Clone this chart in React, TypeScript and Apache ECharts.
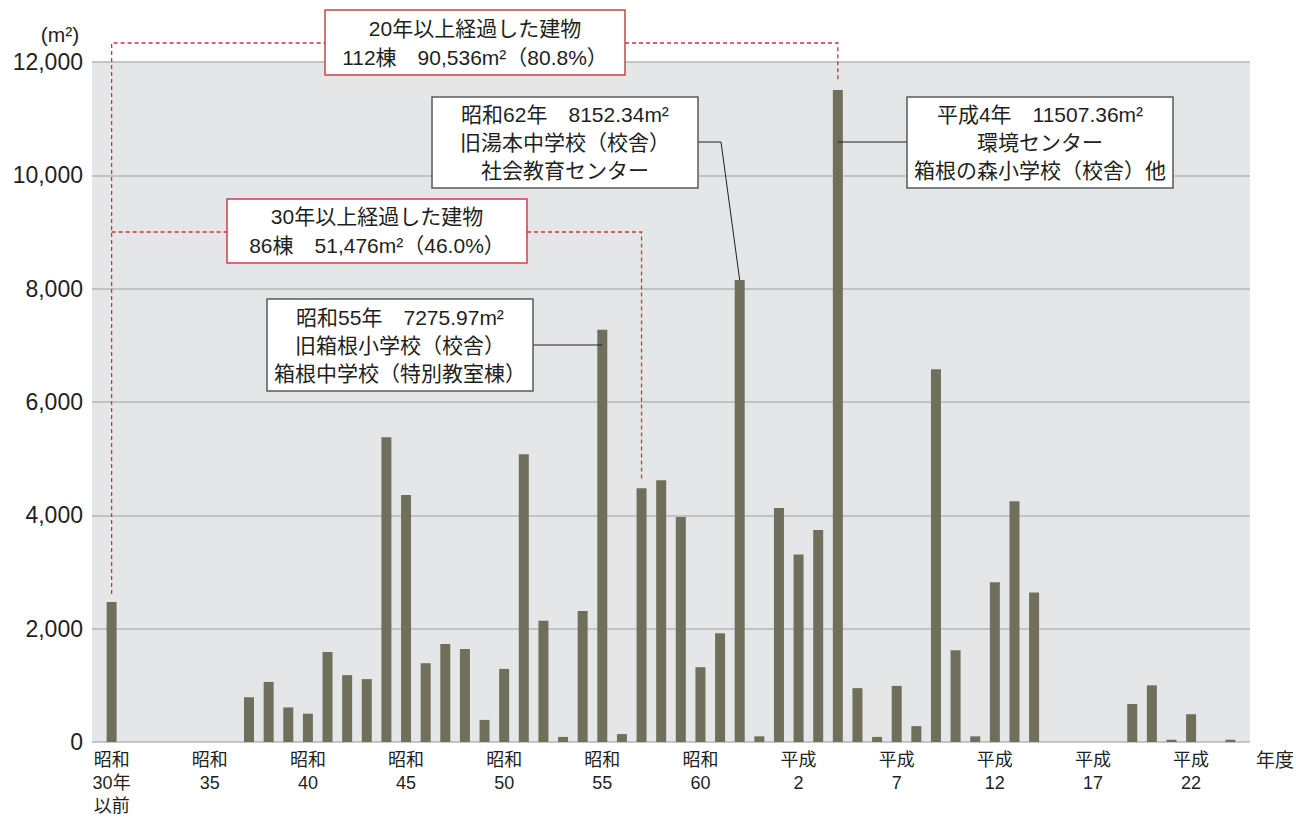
import React, { useEffect, useRef } from 'react';
import * as echarts from 'echarts';

const FONT = "'Liberation Sans', 'Noto Sans CJK JP', sans-serif";
const TEXT = '#231f20';
const BAR = '#706f5c';
const RED = '#d2323a';

// Fiscal years (categories)
const years = [
  '昭和30年以前', '昭和31', '昭和32', '昭和33', '昭和34', '昭和35', '昭和36', '昭和37', '昭和38', '昭和39',
  '昭和40', '昭和41', '昭和42', '昭和43', '昭和44', '昭和45', '昭和46', '昭和47', '昭和48', '昭和49',
  '昭和50', '昭和51', '昭和52', '昭和53', '昭和54', '昭和55', '昭和56', '昭和57', '昭和58', '昭和59',
  '昭和60', '昭和61', '昭和62', '昭和63', '平成元', '平成2', '平成3', '平成4', '平成5', '平成6',
  '平成7', '平成8', '平成9', '平成10', '平成11', '平成12', '平成13', '平成14', '平成15', '平成16',
  '平成17', '平成18', '平成19', '平成20', '平成21', '平成22', '平成23', '平成24',
];

// Floor area built per year (m2)
const areas = [
  2470, 0, 0, 0, 0, 0, 0, 790, 1060, 610,
  500, 1590, 1180, 1110, 5380, 4360, 1390, 1730, 1640, 390,
  1290, 5080, 2140, 90, 2310, 7275.97, 140, 4480, 4620, 3970,
  1320, 1920, 8152.34, 100, 4130, 3310, 3740, 11507.36, 950, 90,
  990, 280, 6580, 1620, 100, 2820, 4250, 2640, 0, 0,
  0, 0, 670, 1000, 40, 490, 0, 40,
];

// Tick labels shown on the x axis
const tickLabels: Record<string, string> = {
  '昭和30年以前': '昭和\n30年\n以前',
  '昭和35': '昭和\n35',
  '昭和40': '昭和\n40',
  '昭和45': '昭和\n45',
  '昭和50': '昭和\n50',
  '昭和55': '昭和\n55',
  '昭和60': '昭和\n60',
  '平成2': '平成\n2',
  '平成7': '平成\n7',
  '平成12': '平成\n12',
  '平成17': '平成\n17',
  '平成22': '平成\n22',
};

const box20 = ['20年以上経過した建物', '112棟　90,536m²（80.8%）'];
const box30 = ['30年以上経過した建物', '86棟　51,476m²（46.0%）'];
const boxS55 = ['昭和55年　7275.97m²', '旧箱根小学校（校舎）', '箱根中学校（特別教室棟）'];
const boxS62 = ['昭和62年　8152.34m²', '旧湯本中学校（校舎）', '社会教育センター'];
const boxH4 = ['平成4年　11507.36m²', '環境センター', '箱根の森小学校（校舎）他'];

export default function App() {
  const ref = useRef<HTMLDivElement>(null);
  useEffect(() => {
    const chart = echarts.init(ref.current!, null, { renderer: 'svg' });
    const cats = ['', ...years, ''];
    const data = ['-', ...areas, '-'];
    chart.setOption({
      animation: false,
      backgroundColor: '#ffffff',
      textStyle: { fontFamily: FONT },
      grid: {
        left: 92, right: 46, top: 62, bottom: 78,
        outerBoundsMode: 'none',
        containLabel: false,
        show: true, backgroundColor: '#e5e6e8', borderWidth: 0,
      },
      xAxis: {
        type: 'category',
        data: cats,
        boundaryGap: false,
        axisLine: { show: false },
        axisTick: { show: false },
        splitLine: { show: false },
        axisLabel: {
          interval: 0,
          margin: 6,
          fontSize: 18,
          lineHeight: 23,
          color: TEXT,
          fontFamily: FONT,
          formatter: (v: string) => tickLabels[v] ?? '',
        },
      },
      yAxis: {
        type: 'value',
        min: 0,
        max: 12000,
        interval: 2000,
        axisLine: { show: false },
        axisTick: { show: false },
        splitLine: { lineStyle: { color: '#b5b6b9', width: 1.5 } },
        axisLabel: {
          margin: 9,
          fontSize: 23,
          color: TEXT,
          fontFamily: FONT,
          formatter: (v: number) => v.toLocaleString('en-US'),
        },
      },
      series: [
        {
          type: 'bar',
          data,
          barWidth: 10,
          itemStyle: { color: BAR },
        },
      ],
    });

    const px = (i: number) => chart.convertToPixel({ gridIndex: 0 }, [i + 1, areas[i]]) as number[];
    const p0 = px(0);
    const p25 = px(25);
    const p27 = px(27);
    const p32 = px(32);
    const p37 = px(37);

    const dash = (points: number[][]) => ({
      type: 'polyline', z: 100,
      shape: { points },
      style: { stroke: RED, lineWidth: 1.3, lineDash: [4, 3], fill: null },
    });
    const solid = (points: number[][]) => ({
      type: 'polyline', z: 100,
      shape: { points },
      style: { stroke: TEXT, lineWidth: 1, fill: null },
    });
    const box = (x: number, y: number, w: number, h: number, stroke: string, lines: string[], lh: number) => ({
      type: 'group', z: 110,
      children: [
        { type: 'rect', z: 110, shape: { x, y, width: w, height: h }, style: { fill: '#ffffff', stroke, lineWidth: 1.5 } },
        {
          type: 'text', z: 111,
          style: {
            x: x + w / 2, y: y + h / 2,
            text: lines.join('\n'),
            textAlign: 'center', textVerticalAlign: 'middle',
            fontSize: 21, lineHeight: lh, fontFamily: FONT, fill: TEXT,
          },
        },
      ],
    });

    chart.setOption({
      graphic: [
        dash([[p0[0], p0[1] - 8], [p0[0], 43], [325, 43]]),
        dash([[625, 43], [p37[0], 43], [p37[0], p37[1] - 8]]),
        dash([[p0[0], 232], [227, 232]]),
        dash([[527, 232], [p27[0], 232], [p27[0], p27[1] - 9]]),
        solid([[533, 345], [p25[0], 345]]),
        solid([[698, 142], [721, 142], [p32[0], p32[1]]]),
        solid([[p37[0], 142], [907, 142]]),
        box(325, 10, 300, 65, '#c8444b', box20, 29),
        box(227, 199, 300, 64, '#c8444b', box30, 29),
        box(267, 299, 266, 92, '#58595b', boxS55, 28),
        box(432, 97, 266, 91, '#58595b', boxS62, 28),
        box(907, 97, 266, 91, '#58595b', boxH4, 28),
        {
          type: 'text', z: 100,
          style: { x: 60, y: 34, text: '(m²)', textAlign: 'center', textVerticalAlign: 'middle', fontSize: 21, fontFamily: FONT, fill: TEXT },
        },
        {
          type: 'text', z: 100,
          style: { x: 1256, y: 760, text: '年度', textAlign: 'left', textVerticalAlign: 'middle', fontSize: 19, fontFamily: FONT, fill: TEXT },
        },
      ],
    });

    return () => chart.dispose();
  }, []);
  return <div ref={ref} style={{ position: 'absolute', left: 0, top: 0, width: 1296, height: 820 }} />;
}
